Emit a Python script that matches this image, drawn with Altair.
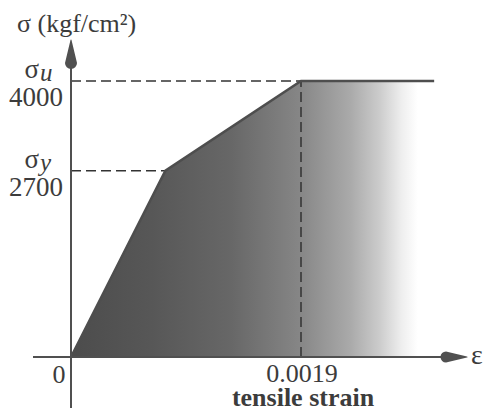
import altair as alt
import pandas as pd

# ---- data ----
strain = [0.0, 0.00078, 0.0019, 0.0030]
stress = [0, 2700, 4000, 4000]
y_tick_values = [2700, 4000]
y_tick_labels = ["2700", "4000"]
y_symbol_subs = ["y", "u"]
x_tick_values = [0.0, 0.0019]
x_tick_labels = ["0", "0.0019"]

# ---- layout (pixel mapping of the reference) ----
W, H = 499, 411
X0PX, Y0PX = 71, 357
XPX = 230 / 0.0019
YPX = 276 / 4000
xdom = [-X0PX / XPX, (W - X0PX) / XPX]
ydom = [-(H - Y0PX) / YPX, Y0PX / YPX]
def dx(px):
    return (px - X0PX) / XPX
def dy(py):
    return (Y0PX - py) / YPX

xs = alt.Scale(domain=xdom, nice=False, zero=False)
ys = alt.Scale(domain=ydom, nice=False, zero=False)
FONT = "Liberation Serif"
INK = "#3c3c3c"

curve = pd.DataFrame({"strain": strain, "stress": stress})

grad = alt.LinearGradient(
    gradient="linear",
    stops=[
        alt.GradientStop(color="#4c4c4c", offset=0.0),
        alt.GradientStop(color="#575757", offset=0.22),
        alt.GradientStop(color="#676767", offset=0.44),
        alt.GradientStop(color="#868686", offset=0.63),
        alt.GradientStop(color="#aaaaaa", offset=0.77),
        alt.GradientStop(color="#cccccc", offset=0.85),
        alt.GradientStop(color="#eeeeee", offset=0.91),
        alt.GradientStop(color="#ffffff", offset=0.955),
        alt.GradientStop(color="#ffffff", offset=1.0),
    ],
    x1=0, x2=1, y1=0, y2=0,
)

area = alt.Chart(curve).mark_area(color=grad).encode(
    x=alt.X("strain:Q", scale=xs, axis=None),
    y=alt.Y("stress:Q", scale=ys, axis=None),
)

line = alt.Chart(curve).mark_line(color="#4e4e4e", strokeWidth=2.5).encode(
    x=alt.X("strain:Q", scale=xs, axis=None),
    y=alt.Y("stress:Q", scale=ys, axis=None),
    order="strain:Q",
)

dash_df = pd.DataFrame({
    "x": [0.0, 0.0, strain[2]],
    "x2": [strain[2], strain[1], strain[2]],
    "y": [stress[2], stress[1], 0],
    "y2": [stress[2], stress[1], stress[2]],
})
dashes = alt.Chart(dash_df).mark_rule(color="#333333", strokeWidth=1.5, strokeDash=[10, 5]).encode(
    x=alt.X("x:Q", scale=xs, axis=None), x2="x2:Q",
    y=alt.Y("y:Q", scale=ys, axis=None), y2="y2:Q",
)

axes_df = pd.DataFrame({
    "x": [0.0, dx(33)],
    "x2": [0.0, dx(450)],
    "y": [dy(408), 0],
    "y2": [dy(58), 0],
})
axes = alt.Chart(axes_df).mark_rule(color="#505050", strokeWidth=2).encode(
    x=alt.X("x:Q", scale=xs, axis=None), x2="x2:Q",
    y=alt.Y("y:Q", scale=ys, axis=None), y2="y2:Q",
)

# arrowheads as tapered trails
up_df = pd.DataFrame({"tx": [0.0, 0.0], "ty": [dy(63), dy(40)], "w": [12, 0]})
arrow_up = alt.Chart(up_df).mark_trail(color="#505050").encode(
    x=alt.X("tx:Q", scale=xs, axis=None),
    y=alt.Y("ty:Q", scale=ys, axis=None),
    size=alt.Size("w:Q", scale=None, legend=None),
    order="ty:Q",
)

right_df = pd.DataFrame({"tx": [dx(446), dx(467)], "ty": [0.0, 0.0], "w": [11, 0]})
arrow_right = alt.Chart(right_df).mark_trail(color="#505050").encode(
    x=alt.X("tx:Q", scale=xs, axis=None),
    y=alt.Y("ty:Q", scale=ys, axis=None),
    size=alt.Size("w:Q", scale=None, legend=None),
    order="tx:Q",
)

ytick_df = pd.DataFrame({"v": y_tick_values, "label": y_tick_labels, "sub": y_symbol_subs, "x": [0.0, 0.0]})
ytext = alt.Chart(ytick_df).mark_text(
    font=FONT, fontSize=27, color=INK, align="right", baseline="middle", dx=-8, dy=17
).encode(x=alt.X("x:Q", scale=xs, axis=None), y=alt.Y("v:Q", scale=ys, axis=None), text="label:N")

ysigma = alt.Chart(ytick_df).mark_text(
    font=FONT, fontSize=27, color=INK, align="right", baseline="alphabetic", dx=-32, dy=-3
).encode(x=alt.X("x:Q", scale=xs, axis=None), y=alt.Y("v:Q", scale=ys, axis=None), text=alt.value("σ"))

ysub = alt.Chart(ytick_df).mark_text(
    font=FONT, fontSize=25, fontStyle="italic", color=INK, align="left", baseline="alphabetic", dx=-31, dy=0
).encode(x=alt.X("x:Q", scale=xs, axis=None), y=alt.Y("v:Q", scale=ys, axis=None), text="sub:N")

xtick_df = pd.DataFrame({"v": x_tick_values, "label": x_tick_labels, "y": [0.0, 0.0]})
xtext0 = alt.Chart(xtick_df.iloc[[0]]).mark_text(
    font=FONT, fontSize=26, color=INK, align="center", baseline="middle", dx=-12, dy=18
).encode(x=alt.X("v:Q", scale=xs, axis=None), y=alt.Y("y:Q", scale=ys, axis=None), text="label:N")
xtext1 = alt.Chart(xtick_df.iloc[[1]]).mark_text(
    font=FONT, fontSize=26, color=INK, align="center", baseline="middle", dx=1, dy=17
).encode(x=alt.X("v:Q", scale=xs, axis=None), y=alt.Y("y:Q", scale=ys, axis=None), text="label:N")

xtitle = alt.Chart(pd.DataFrame({"v": [strain[2]], "y": [0.0], "t": ["tensile strain"]})).mark_text(
    font=FONT, fontSize=26, fontWeight="bold", color=INK, align="center", baseline="middle", dx=2, dy=41
).encode(x=alt.X("v:Q", scale=xs, axis=None), y=alt.Y("y:Q", scale=ys, axis=None), text="t:N")

eps = alt.Chart(pd.DataFrame({"v": [dx(471)], "y": [0.0], "t": ["ε"]})).mark_text(
    font=FONT, fontSize=28, color=INK, align="left", baseline="middle", dy=-1
).encode(x=alt.X("v:Q", scale=xs, axis=None), y=alt.Y("y:Q", scale=ys, axis=None), text="t:N")

ytitle = alt.Chart(pd.DataFrame({"t": ["σ (kgf/cm²)"]})).mark_text(
    font=FONT, fontSize=26, color=INK, align="left", baseline="alphabetic"
).encode(x=alt.value(17), y=alt.value(32), text="t:N")

chart = alt.layer(
    area, dashes, line, axes, arrow_up, arrow_right, ytext, ysigma, ysub, xtext0, xtext1, xtitle, eps, ytitle
).properties(
    width=W, height=H, background="white", padding=0,
    autosize=alt.AutoSizeParams(type="none"),
).configure_view(stroke=None)

chart.save("out.html", embed_options={"renderer": "svg", "actions": False})
